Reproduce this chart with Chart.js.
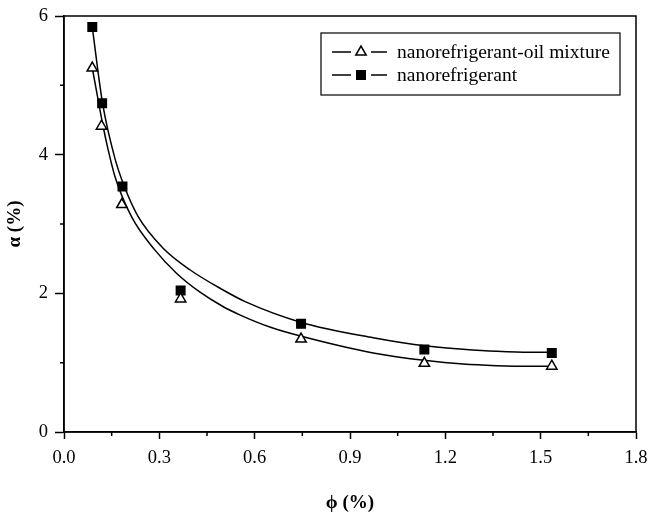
<!DOCTYPE html>
<html lang="en">
<head>
<meta charset="UTF-8">
<title>alpha vs phi</title>
<script src="https://cdn.jsdelivr.net/npm/chart.js"></script>
<style>
  html, body { margin: 0; padding: 0; background: #fff; }
  #wrap { width: 651px; height: 514px; }
</style>
</head>
<body>
<div id="wrap"><canvas id="c"></canvas></div>
<script>
const seriesNames = ['nanorefrigerant-oil mixture', 'nanorefrigerant'];

// measured points
const phiMix = [0.089, 0.118, 0.182, 0.367, 0.746, 1.134, 1.535];
const alphaMix = [5.25, 4.41, 3.28, 1.92, 1.34, 0.99, 0.95];
const phiNano = [0.089, 0.120, 0.184, 0.367, 0.746, 1.134, 1.535];
const alphaNano = [5.84, 4.74, 3.54, 2.04, 1.56, 1.19, 1.14];

// fitted curves
const fitPhiMix = [0.089, 0.123, 0.139, 0.16, 0.212, 0.285, 0.354, 0.427, 0.5, 0.553, 0.65, 0.747, 0.973, 1.14, 1.256, 1.361, 1.465, 1.537];
const fitAlphaMix = [5.25, 4.41, 4.07, 3.69, 3.11, 2.63, 2.29, 2.02, 1.81, 1.69, 1.51, 1.38, 1.14, 1.03, 0.98, 0.957, 0.947, 0.947];
const fitPhiNano = [0.089, 0.121, 0.16, 0.19, 0.233, 0.312, 0.396, 0.5, 0.57, 0.747, 0.973, 1.14, 1.256, 1.361, 1.465, 1.537];
const fitAlphaNano = [5.84, 4.75, 3.95, 3.54, 3.11, 2.65, 2.34, 2.05, 1.88, 1.58, 1.36, 1.24, 1.195, 1.165, 1.15, 1.15];

const xTicks = [0, 0.3, 0.6, 0.9, 1.2, 1.5, 1.8];
const xMinor = [0.15, 0.45, 0.75, 1.05, 1.35, 1.65];
const yTicks = [0, 2, 4, 6];
const yMinor = [1, 3, 5];

const serif = '"Liberation Serif", "DejaVu Serif", serif';
const toXY = (xs, ys) => xs.map((x, i) => ({ x, y: ys[i] }));

const markers = [
  { pointStyle: 'triangle', backgroundColor: '#fff' },
  { pointStyle: 'rect', backgroundColor: '#000' }
];

function drawMarker(ctx, i, x, y) {
  Chart.helpers.drawPoint(ctx, { pointStyle: markers[i].pointStyle, radius: 6, rotation: 0, borderWidth: 1.5 }, x, y);
}

const framePlugin = {
  id: 'frame',
  afterDraw(chart) {
    const { ctx, chartArea: a, scales } = chart;
    ctx.save();
    ctx.strokeStyle = '#000';
    ctx.lineWidth = 1.5;
    ctx.strokeRect(a.left, a.top, a.right - a.left, a.bottom - a.top);

    // minor ticks
    ctx.beginPath();
    xMinor.forEach(v => {
      const px = scales.x.getPixelForValue(v);
      ctx.moveTo(px, a.bottom);
      ctx.lineTo(px, a.bottom + 4);
    });
    yMinor.forEach(v => {
      const py = scales.y.getPixelForValue(v);
      ctx.moveTo(a.left, py);
      ctx.lineTo(a.left - 4, py);
    });
    ctx.stroke();

    // legend box
    const bx = 321, by = 33, bw = 299, bh = 62;
    ctx.lineWidth = 1.2;
    ctx.strokeRect(bx, by, bw, bh);
    ctx.font = '19.5px ' + serif;
    ctx.textBaseline = 'middle';
    [52, 75].forEach((ly, i) => {
      ctx.lineWidth = 1.5;
      ctx.beginPath();
      ctx.moveTo(332, ly); ctx.lineTo(351, ly);
      ctx.moveTo(371, ly); ctx.lineTo(387, ly);
      ctx.stroke();
      ctx.fillStyle = markers[i].backgroundColor;
      drawMarker(ctx, i, 361, ly);
      ctx.fillStyle = '#000';
      ctx.fillText(seriesNames[i], 397, ly + 1);
    });
    ctx.restore();
  }
};

const curveStyle = {
  showLine: true, borderColor: '#000', borderWidth: 1.5,
  pointRadius: 0, cubicInterpolationMode: 'monotone', fill: false
};
const pointStyle = (i) => ({
  showLine: false, pointStyle: markers[i].pointStyle, pointRadius: 6,
  pointBackgroundColor: markers[i].backgroundColor, pointBorderColor: '#000',
  pointBorderWidth: 1.5
});

new Chart(document.getElementById('c'), {
  type: 'scatter',
  data: {
    datasets: [
      { label: seriesNames[0], data: toXY(phiMix, alphaMix), ...pointStyle(0) },
      { label: seriesNames[1], data: toXY(phiNano, alphaNano), ...pointStyle(1) },
      { label: 'fit mix', data: toXY(fitPhiMix, fitAlphaMix), ...curveStyle },
      { label: 'fit nano', data: toXY(fitPhiNano, fitAlphaNano), ...curveStyle }
    ]
  },
  options: {
    responsive: true,
    maintainAspectRatio: false,
    animation: false,
    layout: { padding: { top: 16, right: 15, left: 0, bottom: 0 } },
    plugins: { legend: { display: false }, tooltip: { enabled: false } },
    scales: {
      x: {
        type: 'linear', min: 0, max: 1.8,
        afterFit: s => { s.height = 82; s.paddingLeft = 0; s.paddingRight = 0; },
        afterBuildTicks: s => { s.ticks = xTicks.map(v => ({ value: v })); },
        ticks: {
          color: '#000', padding: 8, maxRotation: 0,
          font: { family: serif, size: 18.5 },
          callback: v => v.toFixed(1)
        },
        grid: { drawOnChartArea: false, drawTicks: true, tickLength: 7, color: '#000', tickWidth: 1.5 },
        border: { display: true, color: '#000', width: 1.5 },
        title: {
          display: true, text: 'ϕ (%)', color: '#000',
          font: { family: serif, size: 19, weight: 'bold' },
          padding: { top: 0, bottom: 0 }
        }
      },
      y: {
        type: 'linear', min: 0, max: 6,
        afterFit: s => { s.width = 64; s.paddingTop = 0; s.paddingBottom = 0; },
        afterBuildTicks: s => { s.ticks = yTicks.map(v => ({ value: v })); },
        ticks: {
          color: '#000', padding: 7,
          font: { family: serif, size: 18.5 },
          callback: v => String(v)
        },
        grid: { drawOnChartArea: false, drawTicks: true, tickLength: 9, color: '#000', tickWidth: 1.5 },
        border: { display: true, color: '#000', width: 1.5 },
        title: {
          display: true, text: 'α (%)', color: '#000',
          font: { family: serif, size: 19, weight: 'bold' },
          padding: { top: 4, bottom: 0 }
        }
      }
    }
  },
  plugins: [framePlugin]
});
</script>
</body>
</html>
